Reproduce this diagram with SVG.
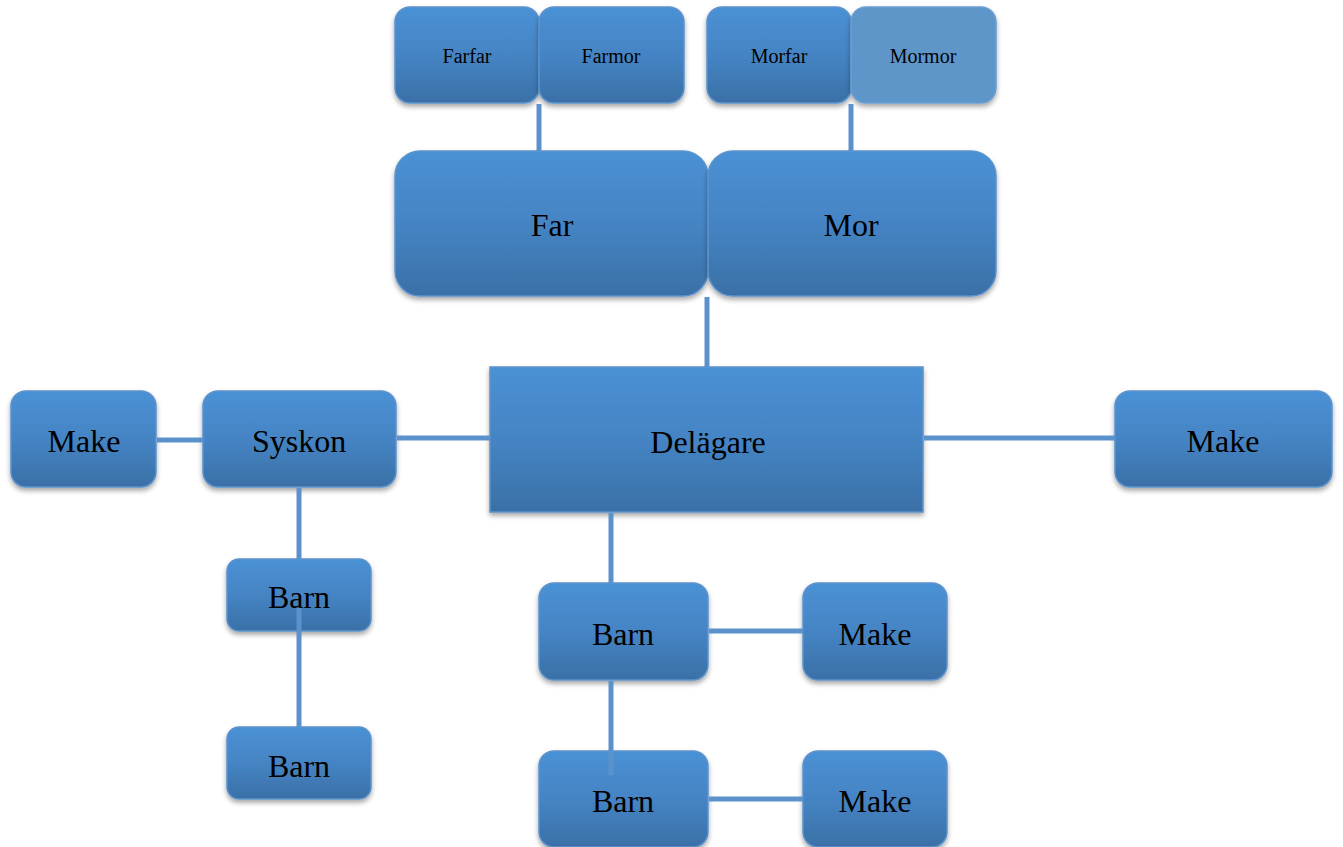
<svg xmlns="http://www.w3.org/2000/svg" width="1343" height="847" viewBox="0 0 1343 847">
<defs>
<linearGradient id="g" x1="0" y1="0" x2="0" y2="1">
<stop offset="0" stop-color="#4a91d5"/>
<stop offset="0.5" stop-color="#4584c4"/>
<stop offset="1" stop-color="#3a70a6"/>
</linearGradient>
<filter id="sh" x="-10%" y="-10%" width="120%" height="130%">
<feDropShadow dx="0" dy="3" stdDeviation="2.5" flood-color="#000" flood-opacity="0.35"/>
</filter>
<style>
.n{fill:url(#g);stroke:#5b93cc;stroke-width:1.5;filter:url(#sh)}
.flat{fill:#5e96ca;stroke:#6a9fd2;stroke-width:1.5;filter:url(#sh)}
.t{font-family:"Liberation Serif","Times New Roman",serif;fill:#000;text-anchor:middle;dominant-baseline:central}
.s{font-size:20px}
.l{font-size:32px}
.c{stroke:#5b92cc;stroke-width:5;fill:none}
</style>
</defs>
<rect width="1343" height="847" fill="#fff"/>
<g id="farfar"><rect class="n" x="395" y="7" width="144" height="96" rx="15"/><text class="t s" x="467" y="56">Farfar</text></g>
<g id="farmor"><rect class="n" x="539" y="7" width="145" height="96" rx="15"/><text class="t s" x="611" y="56">Farmor</text></g>
<g id="morfar"><rect class="n" x="707" y="7" width="144" height="96" rx="15"/><text class="t s" x="779" y="56">Morfar</text></g>
<g id="mormor"><rect class="flat" x="851" y="7" width="145" height="96" rx="15"/><text class="t s" x="923" y="56">Mormor</text></g>
<g id="far"><rect class="n" x="395" y="151" width="313" height="145" rx="25"/><text class="t l" x="552" y="225">Far</text></g>
<g id="mor"><rect class="n" x="708" y="151" width="288" height="145" rx="25"/><text class="t l" x="851" y="225">Mor</text></g>
<g id="delagare"><rect class="n" x="490" y="367" width="433" height="145" rx="0"/><text class="t l" x="708" y="442">Delägare</text></g>
<g id="make-left"><rect class="n" x="11" y="391" width="145" height="96" rx="15"/><text class="t l" x="84" y="441">Make</text></g>
<g id="syskon"><rect class="n" x="203" y="391" width="193" height="96" rx="15"/><text class="t l" x="299" y="441">Syskon</text></g>
<g id="make-right"><rect class="n" x="1115" y="391" width="217" height="96" rx="15"/><text class="t l" x="1223" y="441">Make</text></g>
<g id="barn-s1"><rect class="n" x="227" y="559" width="144" height="72" rx="12"/><text class="t l" x="299" y="597">Barn</text></g>
<g id="barn-s2"><rect class="n" x="227" y="727" width="144" height="72" rx="12"/><text class="t l" x="299" y="766">Barn</text></g>
<g id="barn-d1"><rect class="n" x="539" y="583" width="169" height="97" rx="15"/><text class="t l" x="623" y="634">Barn</text></g>
<g id="make-d1"><rect class="n" x="803" y="583" width="144" height="97" rx="15"/><text class="t l" x="875" y="634">Make</text></g>
<g id="barn-d2"><rect class="n" x="539" y="751" width="169" height="96" rx="15"/><text class="t l" x="623" y="801">Barn</text></g>
<g id="make-d2"><rect class="n" x="803" y="751" width="144" height="96" rx="15"/><text class="t l" x="875" y="801">Make</text></g>
<g id="connectors">
<line class="c" x1="539" y1="104" x2="539" y2="152"/>
<line class="c" x1="851" y1="104" x2="851" y2="152"/>
<line class="c" x1="707" y1="297" x2="707" y2="368"/>
<line class="c" x1="397" y1="438" x2="490" y2="438"/>
<line class="c" x1="924" y1="438" x2="1115" y2="438"/>
<line class="c" x1="157" y1="440" x2="203" y2="440"/>
<line class="c" x1="299" y1="488" x2="299" y2="559"/>
<line class="c" x1="299" y1="608" x2="299" y2="727"/>
<line class="c" x1="611" y1="513" x2="611" y2="583"/>
<line class="c" x1="709" y1="631" x2="803" y2="631"/>
<line class="c" x1="611" y1="681" x2="611" y2="775"/>
<line class="c" x1="709" y1="799" x2="803" y2="799"/>
</g>
</svg>
